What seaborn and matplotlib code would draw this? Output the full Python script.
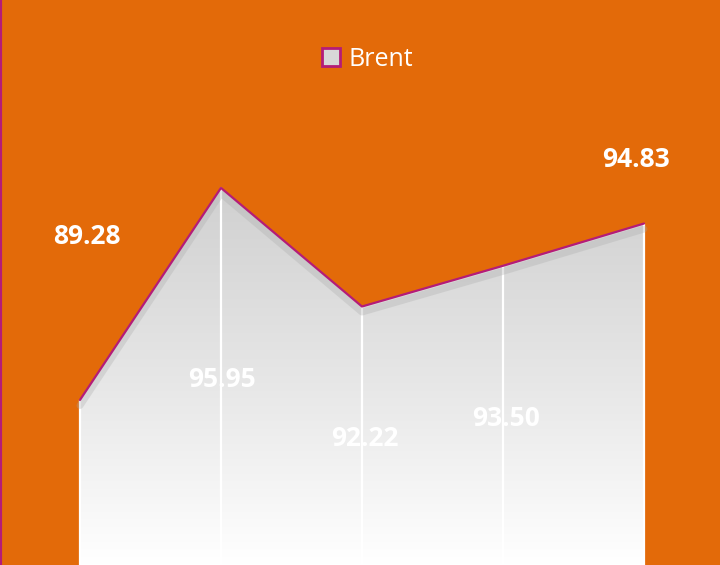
import numpy as np
import pandas as pd
import matplotlib
matplotlib.use('Agg')
import matplotlib.pyplot as plt
import matplotlib.patheffects as pe
from matplotlib.colors import LinearSegmentedColormap
from matplotlib.patches import Polygon
from matplotlib.lines import Line2D
import seaborn as sns

# data
points = [0, 1, 2, 3, 4]
brent = [89.28, 95.95, 92.22, 93.50, 94.83]
labels = ['89.28', '95.95', '92.22', '93.50', '94.83']

# label offsets in points (dx, dy) relative to each point
label_offsets = [(5, 118), (1, -138), (2, -95), (2, -110), (-6, 46)]

bg = '#E36A09'
line_col = '#B41C78'

sns.set_theme(style='white')
plt.rcParams['font.family'] = ['Open Sans', 'DejaVu Sans']

df = pd.DataFrame({'x': points, 'Brent': brent})

fig = plt.figure(figsize=(7.2, 5.65), dpi=100)
fig.patch.set_facecolor(bg)
ax = fig.add_axes([0, 0, 1, 1])
ax.set_facecolor(bg)

ax.set_xlim(-0.567, 4.539)
ax.set_ylim(84.09, 101.86)
ymin = ax.get_ylim()[0]

# gradient fill under the line
verts = [(points[0], ymin)] + list(zip(points, brent)) + [(points[-1], ymin)]
poly = Polygon(verts, closed=True, facecolor='none', edgecolor='none')
ax.add_patch(poly)
cmap = LinearSegmentedColormap.from_list('g', ['#ffffff', '#e6e6e6', '#d0d0d0'])
grad = np.linspace(0, 1, 256).reshape(-1, 1)
im = ax.imshow(grad, cmap=cmap, aspect='auto', origin='lower',
               extent=[points[0], points[-1], ymin, max(brent)], zorder=1)
im.set_clip_path(poly)

# drop lines
for xi, yi in zip(points, brent):
    ax.plot([xi, xi], [ymin, yi], color='white', lw=1.6, zorder=2)

sns.lineplot(data=df, x='x', y='Brent', color=line_col, lw=1.6, ax=ax, zorder=3,
             path_effects=[pe.SimpleLineShadow(offset=(0, -4), shadow_color='#a8a8a8', alpha=0.3, linewidth=5),
                           pe.Normal()])

for xi, yi, t, (dx, dy) in zip(points, brent, labels, label_offsets):
    ax.annotate(t, (xi, yi), xytext=(dx, dy), textcoords='offset points',
                ha='center', va='center', color='white', fontsize=19, fontweight='bold', zorder=4)

ax.set_xticks([])
ax.set_yticks([])
ax.set_xlabel('')
ax.set_ylabel('')
for s in ['top', 'right', 'bottom']:
    ax.spines[s].set_visible(False)
ax.spines['left'].set_color(line_col)
ax.spines['left'].set_linewidth(3)

handle = Line2D([], [], marker='s', linestyle='none', markersize=13,
                markerfacecolor='#d8d8d8', markeredgecolor=line_col, markeredgewidth=2)
leg = ax.legend([handle], ['Brent'], loc='upper center', bbox_to_anchor=(0.5, 0.935),
                frameon=False, fontsize=18, handletextpad=-0.3, borderaxespad=0)
for txt in leg.get_texts():
    txt.set_color('white')

fig.savefig('out.png', dpi=100, facecolor=bg)
